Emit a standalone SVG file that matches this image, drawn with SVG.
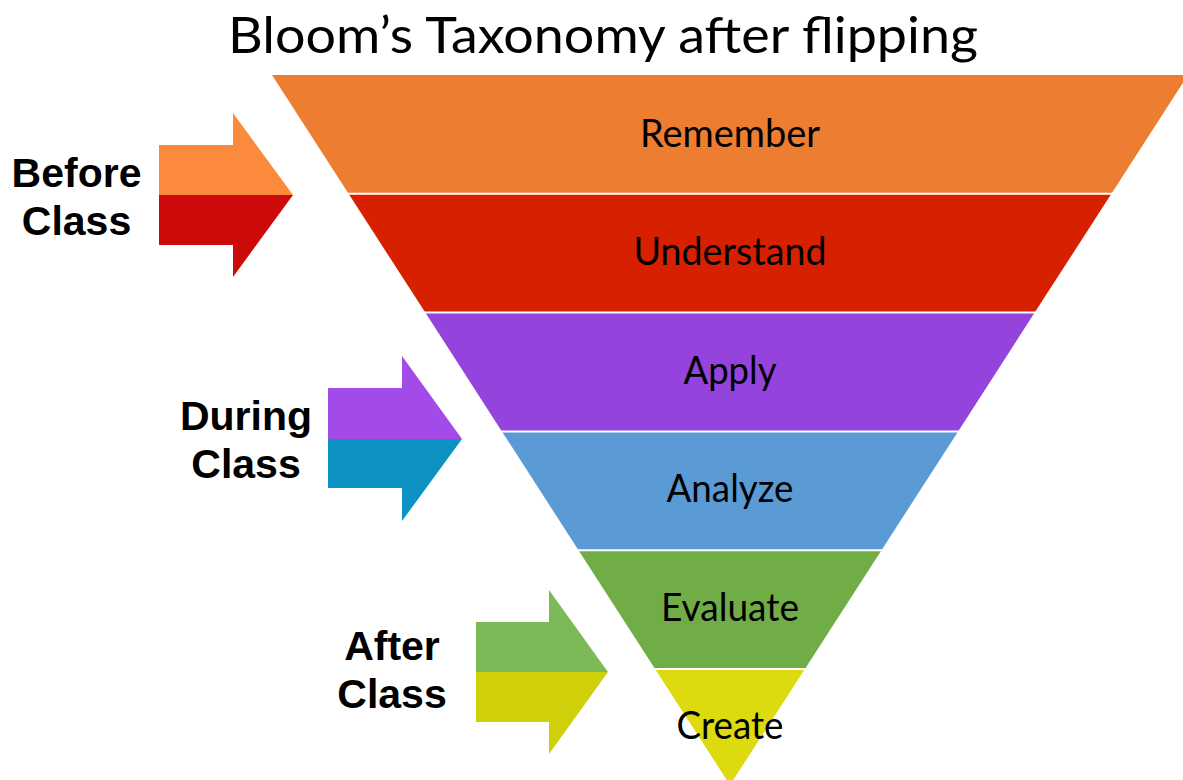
<svg xmlns="http://www.w3.org/2000/svg" width="1183" height="780" viewBox="0 0 1183 780">
<style>
.title{font-family:Lato,"Open Sans",sans-serif;font-size:51px;fill:#000}
.band{font-family:Lato,"Open Sans",sans-serif;font-size:38px;fill:#000;text-anchor:middle}
.side{font-family:"Liberation Sans",Arial,sans-serif;font-size:41px;font-weight:bold;fill:#000;text-anchor:middle}
.sep{stroke:#fff;stroke-width:2}
</style>
<rect width="1183" height="780" fill="#fff"/>
<text class="title" x="228" y="53" textLength="750" lengthAdjust="spacingAndGlyphs">Bloom’s Taxonomy after flipping</text>
<g id="remember">
<polygon points="272,75 1188,75 1111.4,193.8 348.6,193.8" fill="#ED7D31"/>
<text class="band" x="730" y="147" textLength="180" lengthAdjust="spacingAndGlyphs">Remember</text>
</g>
<g id="understand">
<polygon points="348.6,193.8 1111.4,193.8 1034.7,312.6 425.3,312.6" fill="#D72000"/>
<text class="band" x="730" y="265" textLength="193" lengthAdjust="spacingAndGlyphs">Understand</text>
</g>
<g id="apply">
<polygon points="425.3,312.6 1034.7,312.6 958.1,431.4 501.9,431.4" fill="#9443DC"/>
<text class="band" x="730" y="384" textLength="93" lengthAdjust="spacingAndGlyphs">Apply</text>
</g>
<g id="analyze">
<polygon points="501.9,431.4 958.1,431.4 881.5,550.2 578.5,550.2" fill="#5B9BD5"/>
<text class="band" x="730" y="502" textLength="127" lengthAdjust="spacingAndGlyphs">Analyze</text>
</g>
<g id="evaluate">
<polygon points="578.5,550.2 881.5,550.2 804.9,669 655.1,669" fill="#70AD47"/>
<text class="band" x="730" y="621" textLength="138" lengthAdjust="spacingAndGlyphs">Evaluate</text>
</g>
<g id="create">
<polygon points="655.1,669 804.9,669 730,785" fill="#DDDA10"/>
<text class="band" x="730" y="739" textLength="107" lengthAdjust="spacingAndGlyphs">Create</text>
</g>
<g id="separators">
<line class="sep" x1="340" y1="193.8" x2="1120" y2="193.8"/>
<line class="sep" x1="418" y1="312.6" x2="1042" y2="312.6"/>
<line class="sep" x1="494" y1="431.4" x2="966" y2="431.4"/>
<line class="sep" x1="570" y1="550.2" x2="890" y2="550.2"/>
<line class="sep" x1="647" y1="669" x2="813" y2="669"/>
</g>
<g id="before-class">
<polygon points="159,145 233,145 233,113 293,195 159,195" fill="#FB8A3C"/>
<polygon points="159,195 293,195 233,277 233,245 159,245" fill="#CD0A0A"/>
<text class="side" x="76.5" y="187">Before</text>
<text class="side" x="76.5" y="235">Class</text>
</g>
<g id="during-class">
<polygon points="328,388 402,388 402,356 462,439 328,439" fill="#A24BE8"/>
<polygon points="328,439 462,439 402,521 402,488 328,488" fill="#0C93C4"/>
<text class="side" x="246" y="430">During</text>
<text class="side" x="246" y="478">Class</text>
</g>
<g id="after-class">
<polygon points="476,622 549,622 549,590 608,672 476,672" fill="#7CBA57"/>
<polygon points="476,672 608,672 549,754 549,722 476,722" fill="#CFCF0A"/>
<text class="side" x="392" y="660">After</text>
<text class="side" x="392" y="708">Class</text>
</g>
</svg>
